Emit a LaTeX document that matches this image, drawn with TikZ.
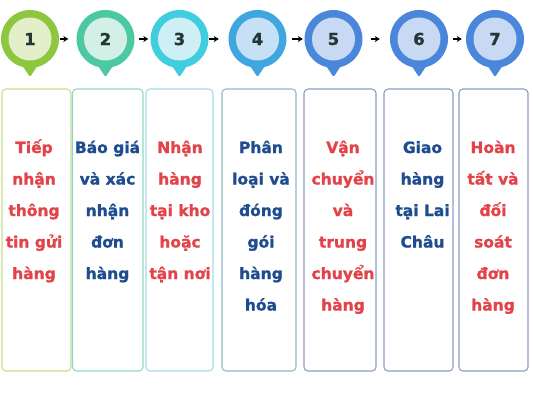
\documentclass[tikz,border=0pt]{standalone}
\usepackage{fontspec}
\setmainfont{DejaVu Sans}
\newfontfamily\cardfont{DejaVu Sans Bold}[FakeBold=1.2]
\usetikzlibrary{arrows.meta}
\definecolor{txtred}{HTML}{E2434A}
\definecolor{txtblue}{HTML}{1F4C8E}
\definecolor{numcol}{HTML}{263636}
\definecolor{pa}{HTML}{8DC63F}\definecolor{ia}{HTML}{E3EFC9}
\definecolor{pb}{HTML}{4CC9A2}\definecolor{ib}{HTML}{D3F0E6}
\definecolor{pc}{HTML}{3FCDDF}\definecolor{ic}{HTML}{CDEFF5}
\definecolor{pd}{HTML}{40A6DF}\definecolor{id}{HTML}{C6E0F5}
\definecolor{pe}{HTML}{4A86DA}\definecolor{ie}{HTML}{C8DAF3}
\definecolor{ba}{HTML}{C6DF8C}
\definecolor{bb}{HTML}{93D5C8}
\definecolor{bc}{HTML}{9FDCE2}
\definecolor{bd}{HTML}{8FB9CC}
\definecolor{be}{HTML}{8C9EC4}
\tikzset{
  pinbody/.style={circle, minimum size=58pt, inner sep=0pt, fill=#1},
  pincore/.style={circle, minimum size=43pt, inner sep=0pt, fill=#1,
    font=\cardfont\fontsize{16.5}{16.5}\selectfont, text=numcol},
  stepcard/.style={draw=#1, line width=1.1pt, rounded corners=4pt},
  steptext/.style={anchor=base, inner sep=0pt, text=#1},
  flowarrow/.style={-{Stealth[length=5pt,width=6pt]}, line width=1.6pt, black},
}
\newcommand{\steplines}[1]{\parbox[t]{90pt}{\centering\cardfont\fontsize{15.5}{31.5}\selectfont #1}}
\begin{document}
\begin{tikzpicture}[x=1pt,y=-1pt]
\useasboundingbox (0,0) rectangle (533,400);
% pins
\foreach \cx/\pc/\ic/\num/\nm in {30/pa/ia/1/1, 105.5/pb/ib/2/2, 179.5/pc/ic/3/3, 257.5/pd/id/4/4, 333.5/pe/ie/5/5, 419/pe/ie/6/6, 495/pe/ie/7/7}{
  \fill[\pc, rounded corners=1.5pt] (\cx-8,65) -- (\cx,77) -- (\cx+8,65) -- cycle;
  \node[pinbody=\pc] (p\nm) at (\cx,39) {};
  \node[pincore=\ic] (n\nm) at (\cx,39) {\num};
}
% arrows
\draw[flowarrow, shorten <=1pt, shorten >=8pt] (p1.east) -- (p2.west);
\draw[flowarrow, shorten <=4pt, shorten >=2pt] (p2.east) -- (p3.west);
\draw[flowarrow, shorten <=0.5pt, shorten >=9.5pt] (p3.east) -- (p4.west);
\draw[flowarrow, shorten <=5.5pt, shorten >=1.5pt] (p4.east) -- (p5.west);
\draw[flowarrow, shorten <=8pt, shorten >=10pt] (p5.east) -- (p6.west);
\draw[flowarrow, shorten <=5pt, shorten >=4pt] (p6.east) -- (p7.west);
% texts
\node[steptext=txtred]  (t1) at (34,153)  {\steplines{Tiếp\\nhận\\thông\\tin gửi\\hàng}};
\node[steptext=txtblue] (t2) at (107.5,153) {\steplines{Báo giá\\và xác\\nhận\\đơn\\hàng}};
\node[steptext=txtred]  (t3) at (180,153) {\steplines{Nhận\\hàng\\tại kho\\hoặc\\tận nơi}};
\node[steptext=txtblue] (t4) at (261,153) {\steplines{Phân\\loại và\\đóng\\gói\\hàng\\hóa}};
\node[steptext=txtred]  (t5) at (343,153) {\steplines{Vận\\chuyển\\và\\trung\\chuyển\\hàng}};
\node[steptext=txtblue] (t6) at (422.5,153) {\steplines{Giao\\hàng\\tại Lai\\Châu}};
\node[steptext=txtred]  (t7) at (493,153) {\steplines{Hoàn\\tất và\\đối\\soát\\đơn\\hàng}};
% cards
\draw[stepcard=ba] (2,89) rectangle (71,371);
\draw[stepcard=bb] (72.5,89) rectangle (143,371);
\draw[stepcard=bc] (146,89) rectangle (213,371);
\draw[stepcard=bd] (222,89) rectangle (296,371);
\draw[stepcard=be] (304,89) rectangle (376,371);
\draw[stepcard=be] (384,89) rectangle (453,371);
\draw[stepcard=be] (459,89) rectangle (528,371);
\end{tikzpicture}
\end{document}
